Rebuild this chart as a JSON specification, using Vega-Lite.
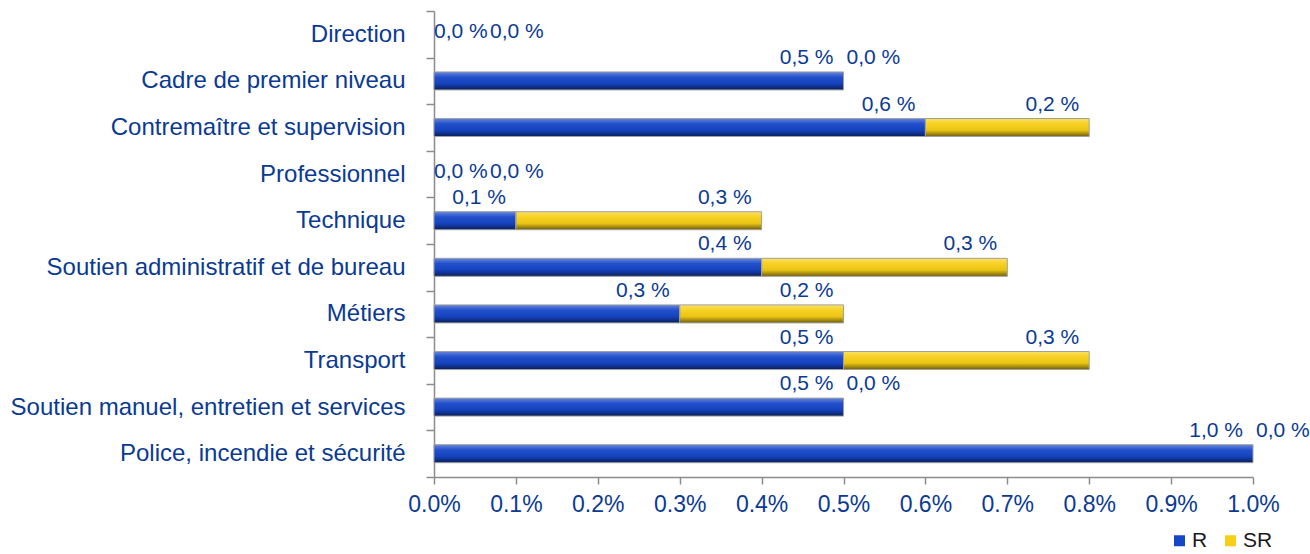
{
  "$schema": "https://vega.github.io/schema/vega-lite/v6.json",
  "width": 819,
  "height": 466,
  "autosize": "none",
  "padding": {"left": 434, "top": 11, "right": 57, "bottom": 77},
  "background": "white",
  "config": {
    "view": {"stroke": null},
    "font": "Liberation Sans",
    "locale": {"number": {"decimal": ",", "thousands": " ", "grouping": [3], "currency": ["", " €"], "percent": " %"}}
  },
  "data": {"values": [
    {"cat": "Direction", "s": "R", "v": 0.0},
    {"cat": "Direction", "s": "SR", "v": 0.0},
    {"cat": "Cadre de premier niveau", "s": "R", "v": 0.005},
    {"cat": "Cadre de premier niveau", "s": "SR", "v": 0.0},
    {"cat": "Contremaître et supervision", "s": "R", "v": 0.006},
    {"cat": "Contremaître et supervision", "s": "SR", "v": 0.002},
    {"cat": "Professionnel", "s": "R", "v": 0.0},
    {"cat": "Professionnel", "s": "SR", "v": 0.0},
    {"cat": "Technique", "s": "R", "v": 0.001},
    {"cat": "Technique", "s": "SR", "v": 0.003},
    {"cat": "Soutien administratif et de bureau", "s": "R", "v": 0.004},
    {"cat": "Soutien administratif et de bureau", "s": "SR", "v": 0.003},
    {"cat": "Métiers", "s": "R", "v": 0.003},
    {"cat": "Métiers", "s": "SR", "v": 0.002},
    {"cat": "Transport", "s": "R", "v": 0.005},
    {"cat": "Transport", "s": "SR", "v": 0.003},
    {"cat": "Soutien manuel, entretien et services", "s": "R", "v": 0.005},
    {"cat": "Soutien manuel, entretien et services", "s": "SR", "v": 0.0},
    {"cat": "Police, incendie et sécurité", "s": "R", "v": 0.010},
    {"cat": "Police, incendie et sécurité", "s": "SR", "v": 0.0}
  ]},
  "transform": [
    {"stack": "v", "groupby": ["cat"], "sort": [{"field": "s", "order": "ascending"}], "as": ["x0", "x1"]}
  ],
  "encoding": {
    "y": {
      "field": "cat", "type": "nominal",
      "sort": ["Direction", "Cadre de premier niveau", "Contremaître et supervision", "Professionnel", "Technique", "Soutien administratif et de bureau", "Métiers", "Transport", "Soutien manuel, entretien et services", "Police, incendie et sécurité"],
      "scale": {"paddingInner": 0, "paddingOuter": 0},
      "axis": {
        "title": null,
        "labelFont": "Liberation Sans",
        "labelFontSize": 24,
        "labelColor": "#0B3A93",
        "labelLimit": 600,
        "labelPadding": 21,
        "tickBand": "extent",
        "tickSize": 8,
        "tickColor": "#8c8c8c",
        "domainColor": "#8c8c8c",
        "domainWidth": 1.5,
        "tickWidth": 1.5,
        "grid": false
      }
    }
  },
  "layer": [
    {
      "mark": {"type": "bar", "height": 18},
      "encoding": {
        "x": {
          "field": "x0", "type": "quantitative",
          "scale": {"domain": [0, 0.01], "nice": false, "zero": true},
          "axis": {
            "title": null,
            "values": [0, 0.001, 0.002, 0.003, 0.004, 0.005, 0.006, 0.007, 0.008, 0.009, 0.01],
            "format": ".1%",
            "labelExpr": "replace(replace(datum.label, ',', '.'), ' ', '')",
            "grid": false,
            "labelFont": "Liberation Sans",
            "labelFontSize": 23,
            "labelColor": "#0B3A93",
            "labelPadding": 9,
            "labelFlush": false,
            "tickSize": 7,
            "tickColor": "#8c8c8c",
            "tickWidth": 1.5,
            "domainColor": "#8c8c8c",
            "domainWidth": 1.5,
            "labelOverlap": false
          }
        },
        "x2": {"field": "x1"},
        "color": {
          "field": "s", "type": "nominal",
          "scale": {"domain": ["R", "SR"], "range": ["#1646C8", "#F7CF16"]},
          "legend": {
            "title": null,
            "orient": "none",
            "legendX": 735,
            "legendY": 519,
            "direction": "horizontal",
            "symbolType": "square",
            "symbolSize": 121,
            "symbolStrokeWidth": 0,
            "labelFontSize": 21,
            "labelFont": "Liberation Sans",
            "labelColor": "#1a1a1a",
            "labelOffset": 2,
            "columnPadding": 12,
            "padding": 0
          }
        }
      }
    },
    {
      "transform": [{"filter": "datum.v > 0"}],
      "mark": {
        "type": "bar", "height": 18,
        "fill": {"gradient": "linear", "x1": 0, "y1": 0, "x2": 0, "y2": 1,
          "stops": [
            {"offset": 0, "color": "rgba(255,255,255,0.35)"},
            {"offset": 0.3, "color": "rgba(255,255,255,0.05)"},
            {"offset": 0.65, "color": "rgba(0,0,0,0.05)"},
            {"offset": 1, "color": "rgba(0,0,0,0.55)"}
          ]},
        "stroke": "#a0a0a0",
        "strokeWidth": 1
      },
      "encoding": {
        "x": {"field": "x0", "type": "quantitative"},
        "x2": {"field": "x1"}
      }
    },
    {
      "transform": [{"filter": "datum.v > 0"}],
      "mark": {"type": "text", "align": "right", "baseline": "middle", "dx": -10, "dy": -23, "fontSize": 21, "font": "Liberation Sans", "color": "#0B3A93"},
      "encoding": {
        "x": {"field": "x1", "type": "quantitative"},
        "text": {"field": "v", "type": "quantitative", "format": ".1%"}
      }
    },
    {
      "transform": [{"filter": "datum.v == 0 && datum.s == 'R'"}],
      "mark": {"type": "text", "align": "left", "baseline": "middle", "dx": 0, "dy": -2, "fontSize": 21, "font": "Liberation Sans", "color": "#0B3A93"},
      "encoding": {
        "x": {"field": "x1", "type": "quantitative"},
        "text": {"field": "v", "type": "quantitative", "format": ".1%"}
      }
    },
    {
      "transform": [{"filter": "datum.v == 0 && datum.s == 'SR' && datum.x1 > 0"}],
      "mark": {"type": "text", "align": "left", "baseline": "middle", "dx": 3, "dy": -23, "fontSize": 21, "font": "Liberation Sans", "color": "#0B3A93"},
      "encoding": {
        "x": {"field": "x1", "type": "quantitative"},
        "text": {"field": "v", "type": "quantitative", "format": ".1%"}
      }
    },
    {
      "transform": [{"filter": "datum.v == 0 && datum.s == 'SR' && datum.x1 == 0"}],
      "mark": {"type": "text", "align": "left", "baseline": "middle", "dx": 56, "dy": -2, "fontSize": 21, "font": "Liberation Sans", "color": "#0B3A93"},
      "encoding": {
        "x": {"field": "x1", "type": "quantitative"},
        "text": {"field": "v", "type": "quantitative", "format": ".1%"}
      }
    }
  ]
}
